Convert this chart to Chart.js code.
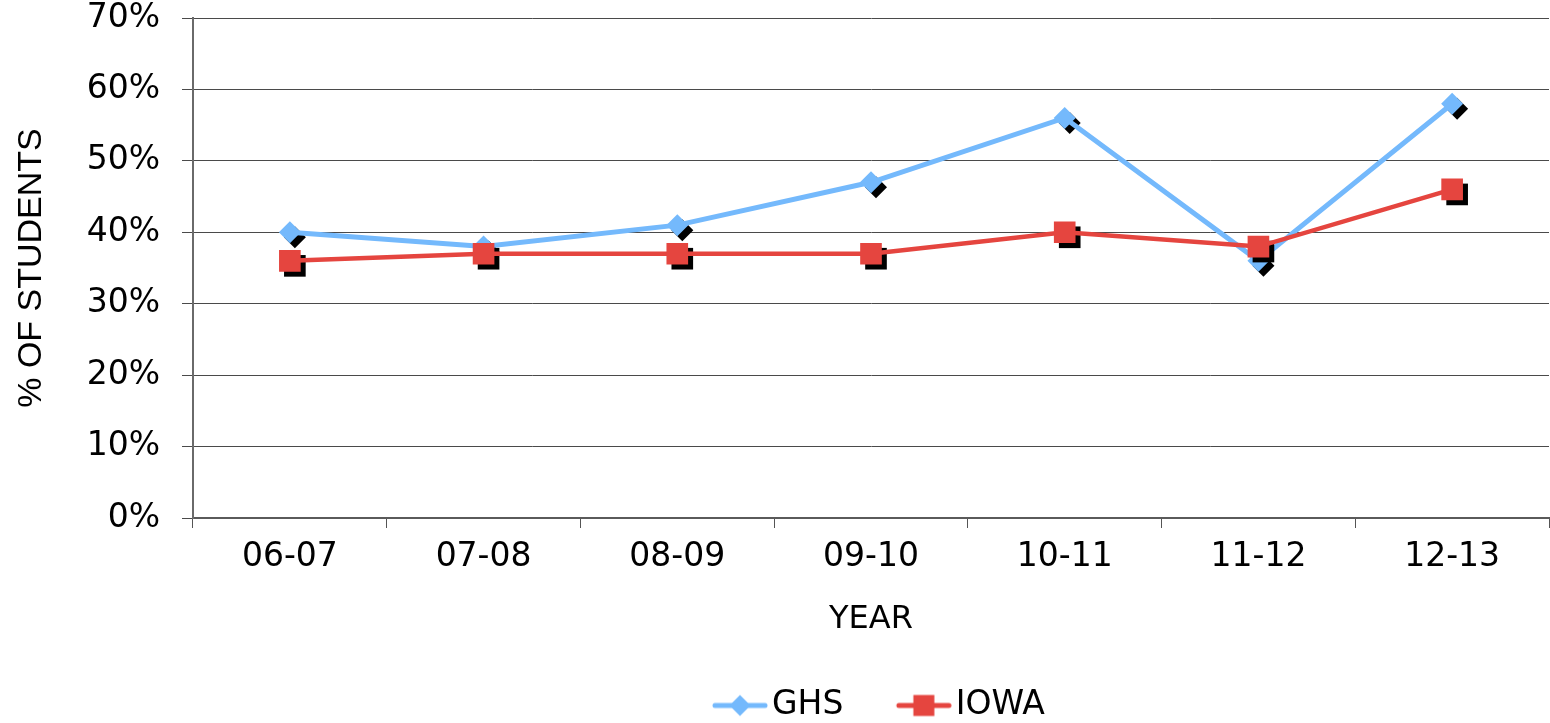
<!DOCTYPE html>
<html>
<head>
<meta charset="utf-8">
<script src="https://cdn.jsdelivr.net/npm/chart.js@4/dist/chart.umd.min.js"></script>
<style>
  html, body { margin: 0; padding: 0; background: #ffffff; }
  #wrap { width: 1550px; height: 723px; }
</style>
</head>
<body>
<div id="wrap"><canvas id="c" width="1550" height="723"></canvas></div>
<script>
const categories = ['06-07', '07-08', '08-09', '09-10', '10-11', '11-12', '12-13'];
const ghsValues = [40, 38, 41, 47, 56, 36, 58];
const iowaValues = [36, 37, 37, 37, 40, 38, 46];
const seriesNames = ['GHS', 'IOWA'];
const yTicks = [0, 10, 20, 30, 40, 50, 60, 70];
const xTitle = 'YEAR';
const yTitle = '% OF STUDENTS';

const BLUE = '#74B9FC';
const RED = '#E5453F';
const TICK_FONT = { family: 'DejaVu Sans', size: 33 };

function makeLegendImage(color, style) {
  const c = document.createElement('canvas');
  c.width = 111; c.height = 26;
  const g = c.getContext('2d');
  const cy = 13, x0 = 55, x1 = 111, cx = (x0 + x1) / 2;
  g.strokeStyle = color; g.lineWidth = 5; g.lineCap = 'round';
  g.beginPath(); g.moveTo(x0 + 3, cy); g.lineTo(x1 - 3, cy); g.stroke();
  g.fillStyle = color;
  g.beginPath();
  if (style === 'rectRot') {
    g.moveTo(cx - 10.5, cy); g.lineTo(cx, cy - 10.5); g.lineTo(cx + 10.5, cy); g.lineTo(cx, cy + 10.5);
  } else {
    g.rect(cx - 10.5, cy - 10.5, 21, 21);
  }
  g.closePath(); g.fill();
  return c;
}

const shadowPlugin = {
  id: 'markerShadow',
  beforeDatasetDraw(chart, args) {
    const ds = chart.data.datasets[args.index];
    const ctx = chart.ctx;
    ctx.save();
    ctx.fillStyle = '#000000';
    const r = ds.pointRadius;
    args.meta.data.forEach(pt => {
      const x = pt.x + 5, y = pt.y + 5;
      ctx.beginPath();
      if (ds.pointStyle === 'rectRot') {
        ctx.moveTo(x - r, y); ctx.lineTo(x, y - r); ctx.lineTo(x + r, y); ctx.lineTo(x, y + r);
      } else {
        const s = Math.SQRT1_2 * r;
        ctx.rect(x - s, y - s, 2 * s, 2 * s);
      }
      ctx.closePath();
      ctx.fill();
    });
    ctx.restore();
  }
};

const legendShift = {
  id: 'legendShift',
  afterLayout(chart) {
    const lg = chart.legend;
    if (!lg || !lg.lineWidths) return;
    const lw = lg.lineWidths[0];
    const pad = 10;
    const cur = (lg.left + pad + lg.right - lw) / 2;
    const d = 669.5 - cur;
    lg.left += d; lg.right += d;
  }
};

const legendImages = [makeLegendImage(BLUE, 'rectRot'), makeLegendImage(RED, 'rect')];

new Chart(document.getElementById('c'), {
  type: 'line',
  data: {
    labels: categories,
    datasets: [
      {
        label: seriesNames[0], data: ghsValues, order: 1,
        borderColor: BLUE, backgroundColor: BLUE, borderWidth: 5,
        pointStyle: 'rectRot', pointRadius: 11, pointHoverRadius: 11,
        pointBackgroundColor: BLUE, pointBorderWidth: 0, tension: 0, fill: false
      },
      {
        label: seriesNames[1], data: iowaValues, order: 0,
        borderColor: RED, backgroundColor: RED, borderWidth: 4.5,
        pointStyle: 'rect', pointRadius: 15.3, pointHoverRadius: 15.3,
        pointBackgroundColor: RED, pointBorderWidth: 0, tension: 0, fill: false
      }
    ]
  },
  options: {
    responsive: false,
    animation: false,
    devicePixelRatio: 1,
    layout: { autoPadding: false, padding: { top: 18, left: 0, right: 1, bottom: -9 } },
    plugins: {
      legend: {
        position: 'bottom',
        fullSize: false,
        labels: {
          usePointStyle: true,
          pointStyleWidth: 86,
          padding: 10,
          color: '#000000',
          font: TICK_FONT,
          generateLabels: (chart) => chart.data.datasets.map((ds, i) => ({
            text: ds.label,
            pointStyle: legendImages[i],
            fillStyle: ds.borderColor,
            strokeStyle: ds.borderColor,
            lineWidth: 0,
            hidden: false,
            datasetIndex: i,
            fontColor: '#000000'
          }))
        }
      },
      tooltip: { enabled: false }
    },
    scales: {
      x: {
        type: 'category',
        offset: true,
        afterFit: (s) => { s.height = 161; s.paddingLeft = 0; s.paddingRight = 0; },
        grid: {
          offset: true,
          drawOnChartArea: false,
          drawTicks: true,
          tickLength: 10,
          color: '#555555',
          lineWidth: 1
        },
        border: { display: true, color: '#5a5a5a', width: 2 },
        ticks: { color: '#000000', font: TICK_FONT, padding: 10, maxRotation: 0, autoSkip: false },
        title: {
          display: true, text: xTitle, color: '#000000',
          font: { family: 'DejaVu Sans', size: 32 }, padding: { top: 0, bottom: 40 }
        }
      },
      y: {
        min: yTicks[0],
        max: yTicks[yTicks.length - 1],
        afterFit: (s) => { s.width = 193; s.paddingTop = 0; s.paddingBottom = 0; },
        afterBuildTicks: (s) => { s.ticks = yTicks.map(v => ({ value: v })); },
        grid: {
          drawOnChartArea: true,
          drawTicks: true,
          tickLength: 11,
          color: '#4a4a4a',
          lineWidth: 1
        },
        border: { display: true, color: '#6a6a6a', width: 2 },
        ticks: {
          color: '#000000', font: TICK_FONT, padding: 22,
          callback: (v) => v + '%'
        },
        title: {
          display: true, text: yTitle, color: '#000000',
          font: { family: 'Liberation Sans', size: 34 },
          padding: { top: 11, bottom: 0 }
        }
      }
    }
  },
  plugins: [shadowPlugin, legendShift]
});
</script>
</body>
</html>
